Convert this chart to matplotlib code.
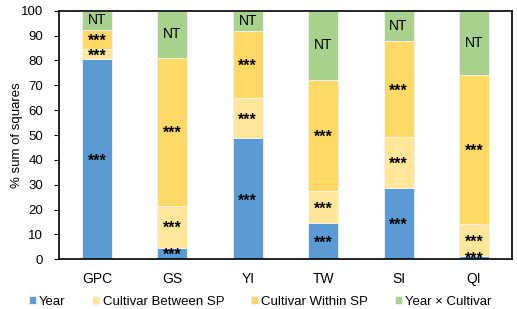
import numpy as np
import matplotlib.pyplot as plt

plt.rcParams['font.family'] = ['Liberation Sans', 'DejaVu Sans']

# Data (% sum of squares)
traits = ['GPC', 'GS', 'YI', 'TW', 'SI', 'QI']
year = [80.6, 4.6, 48.6, 14.5, 28.8, 1.3]
between_sp = [3.9, 17.0, 16.3, 13.1, 20.4, 12.9]
within_sp = [7.7, 59.5, 27.1, 44.6, 38.5, 59.9]
year_x_cultivar = [7.8, 18.9, 8.0, 27.8, 12.3, 25.9]

series = ['Year', 'Cultivar Between SP', 'Cultivar Within SP', 'Year × Cultivar']
colors = ['#5B9BD5', '#FFE699', '#FFD966', '#A9D18E']
labels = [['***'] * 6, ['***'] * 6, ['***'] * 6, ['NT'] * 6]

fig = plt.figure(figsize=(5.17, 3.09), dpi=100)
ax = fig.add_axes([0.1147, 0.1608, 0.875, 0.8046])

x = np.arange(len(traits))
bottom = np.zeros(len(traits))
handles = []
for vals, col, name, labs in zip([year, between_sp, within_sp, year_x_cultivar],
                                 colors, series, labels):
    vals = np.array(vals)
    b = ax.bar(x, vals, 0.4, bottom=bottom, color=col, edgecolor='#f4f4f4',
               linewidth=0.6, label=name)
    handles.append(b)
    for xi, v, b0, lab in zip(x, vals, bottom, labs):
        if lab == 'NT':
            ax.text(xi, b0 + v / 2, lab, ha='center', va='center', fontsize=10)
        else:
            ax.text(xi, b0 + v / 2 - 0.8, lab, ha='center', va='center',
                    fontsize=11.5, fontweight='bold')
    bottom += vals

ax.set_xlim(-0.5, len(traits) - 0.5)
ax.set_ylim(0, 100)
ax.set_yticks(range(0, 101, 10))
ax.set_xticks(x)
ax.set_xticklabels(traits, fontsize=10)
ax.tick_params(axis='y', labelsize=9.5, length=3.5, width=0.8, pad=8)
ax.tick_params(axis='x', length=0, pad=9)
ax.set_ylabel('% sum of squares', fontsize=9.5, labelpad=-1.5)
for s in ax.spines.values():
    s.set_linewidth(1.2)
    s.set_color('black')

fig.legend(handles, series, loc='lower center', bbox_to_anchor=(0.503, -0.035),
           ncol=4, frameon=False, fontsize=9.5, handlelength=0.55,
           handleheight=0.55, handletextpad=0.25, columnspacing=2.0)

fig.savefig('out.png', dpi=100)
